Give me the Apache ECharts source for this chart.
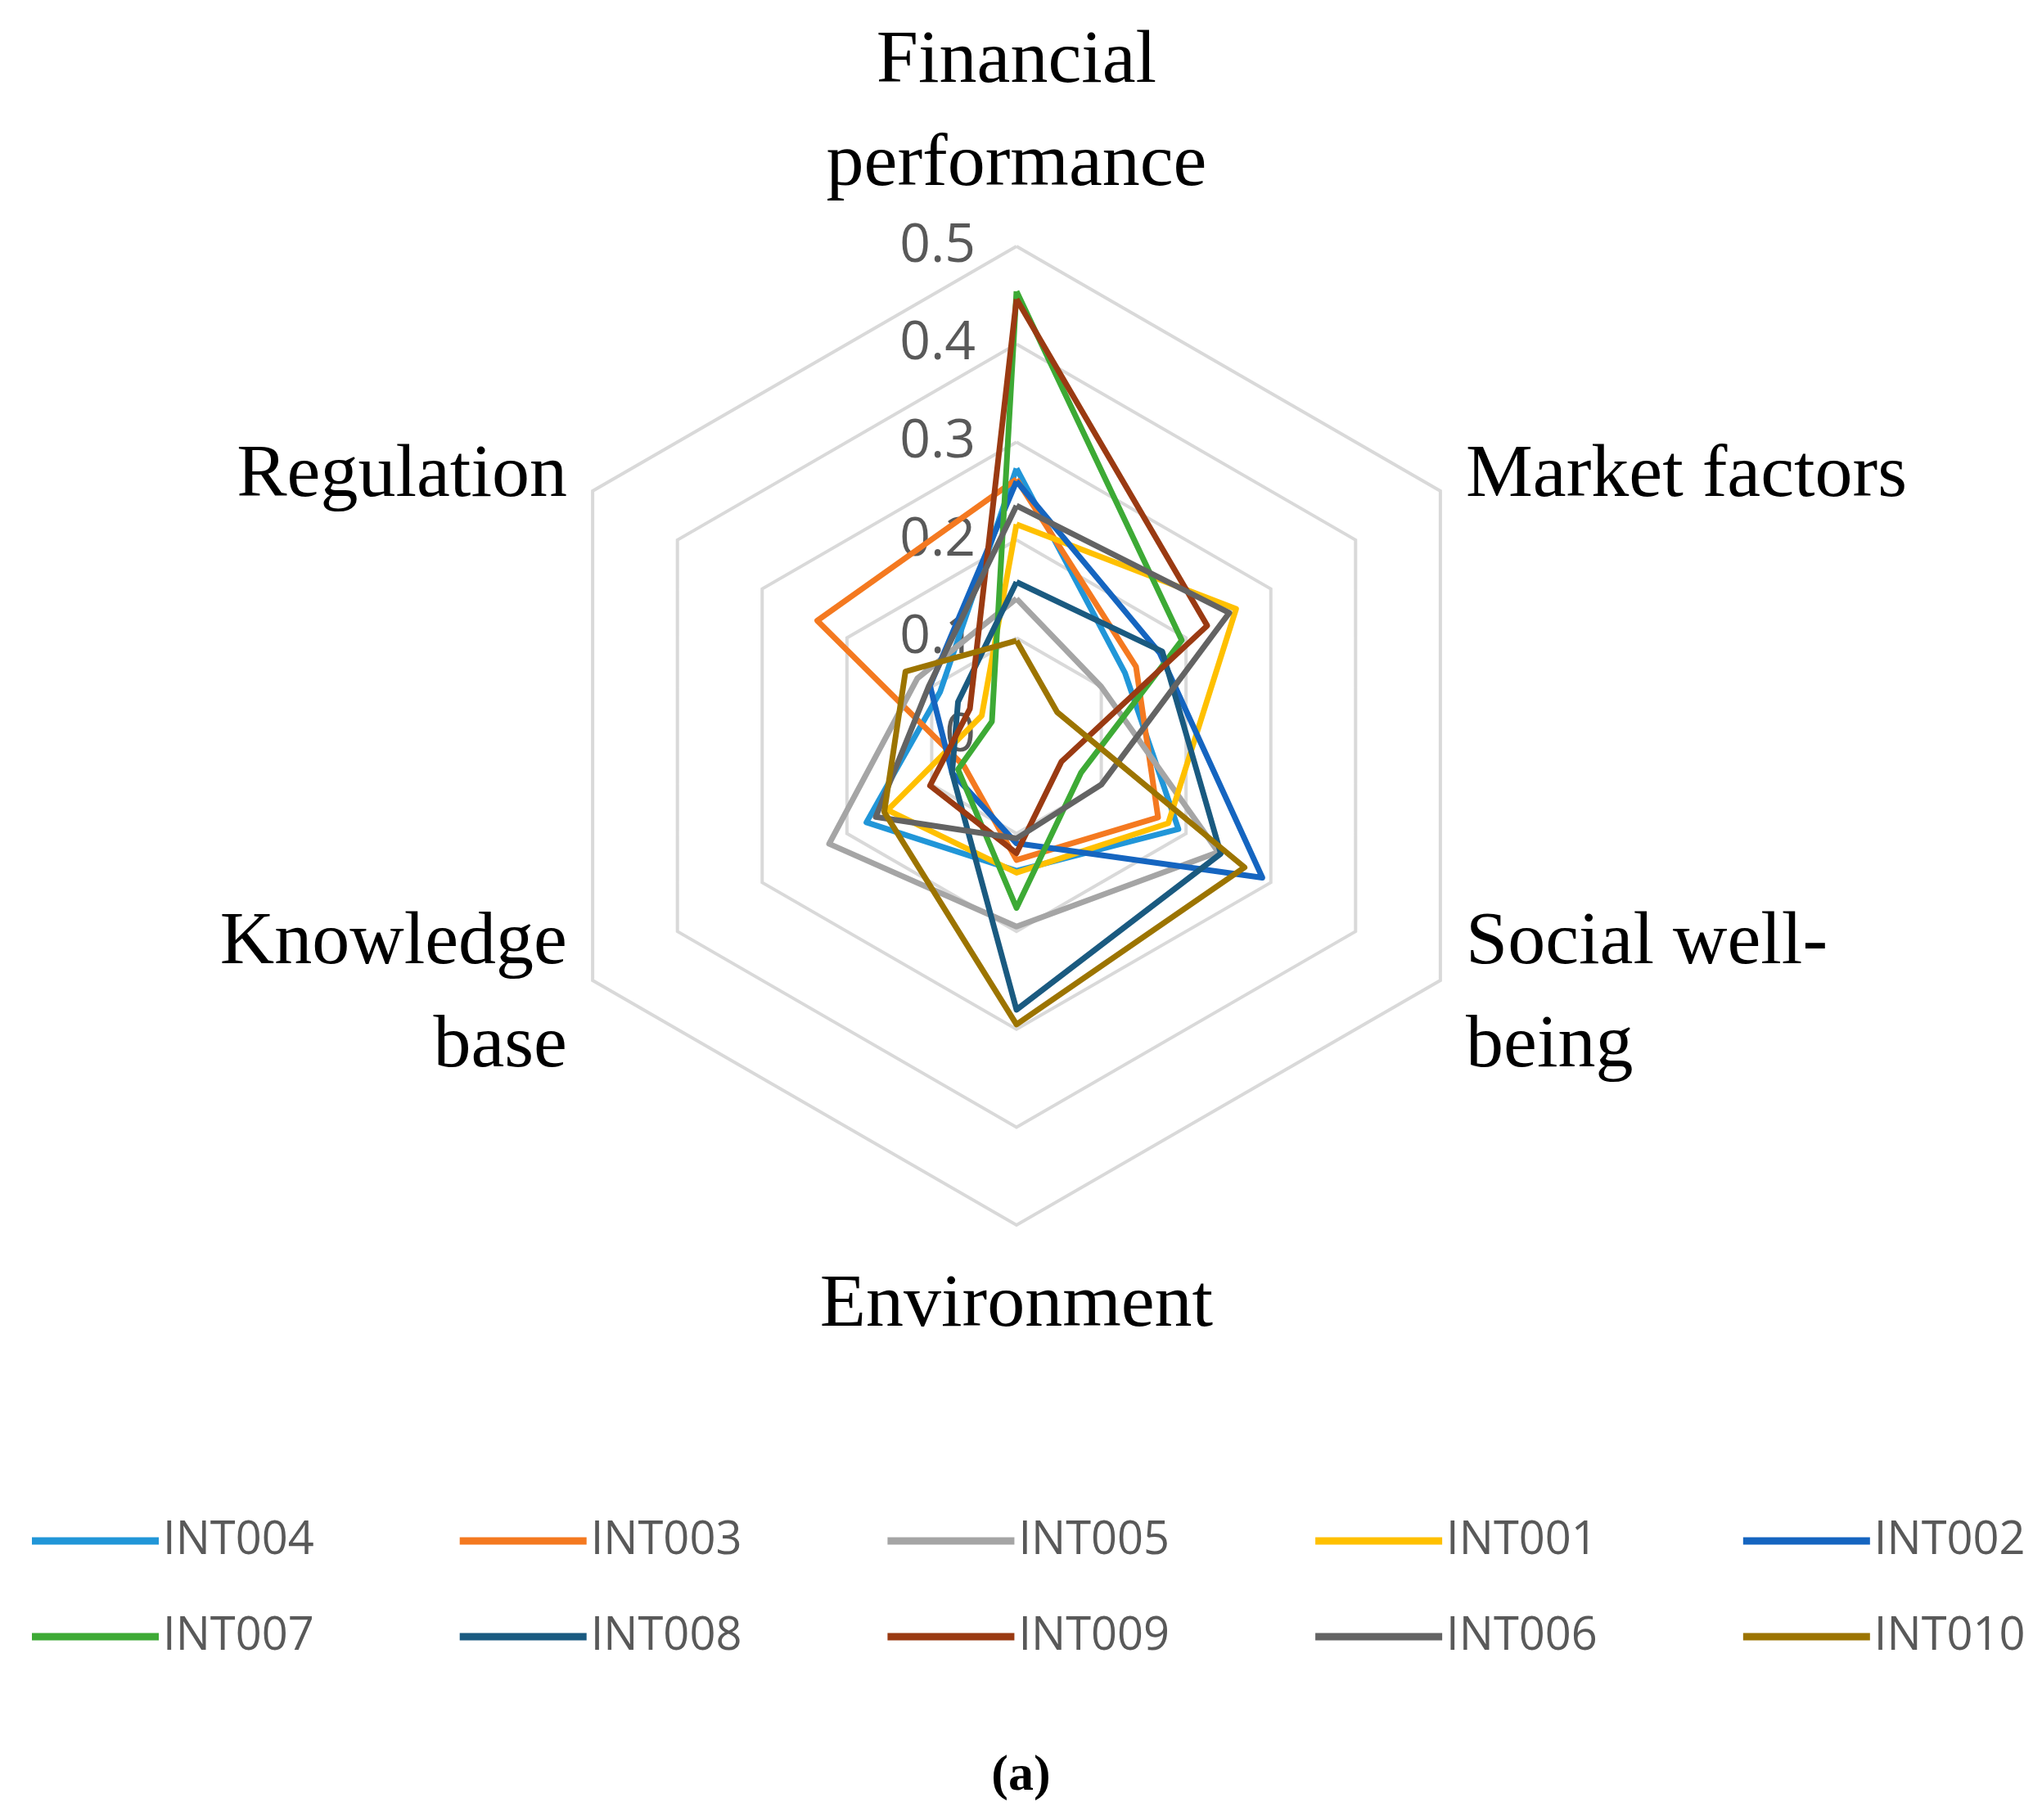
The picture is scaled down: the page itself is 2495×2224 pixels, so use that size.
<!DOCTYPE html>
<html><head><meta charset="utf-8">
<script src="https://cdn.jsdelivr.net/npm/echarts@6/dist/echarts.min.js"></script>
<style>html,body{margin:0;background:#fff}#c{width:2495px;height:2224px}</style>
</head><body><div id="c"></div>
<script>
// order: Financial, Market, Social, Environment, Knowledge, Regulation
const categories = ["Financial\nperformance","Market factors","Social well-\nbeing","Environment","Knowledge\nbase","Regulation"];
const seriesNames = ["INT004","INT003","INT005","INT001","INT002","INT007","INT008","INT009","INT006","INT010"];
const colors = ["#2196D8","#F47920","#A5A5A5","#FFC000","#1565C0","#3DAA35","#1A5A80","#9A3A12","#636363","#9C7400"];
const INT004 = [0.273,0.128,0.191,0.138,0.177,0.09];
const INT003 = [0.262,0.141,0.167,0.127,0.062,0.235];
const INT005 = [0.14,0.10,0.238,0.195,0.221,0.117];
const INT001 = [0.216,0.259,0.179,0.14,0.152,0.041];
const INT002 = [0.26,0.169,0.29,0.11,0.076,0.102];
const INT007 = [0.454,0.195,0.076,0.176,0.069,0.029];
const INT008 = [0.157,0.172,0.241,0.28,0.076,0.069];
const INT009 = [0.446,0.225,0.053,0.12,0.102,0.055];
const INT006 = [0.235,0.251,0.10,0.105,0.166,0.103];
const INT010 = [0.097,0.048,0.269,0.295,0.156,0.131];
const allData = [INT004,INT003,INT005,INT001,INT002,INT007,INT008,INT009,INT006,INT010];
const tickLabels = ["0","0.1","0.2","0.3","0.4","0.5"];

// ECharts radar goes counter-clockwise; reorder so axes go clockwise
const order = [0,5,4,3,2,1];
const chart = echarts.init(document.getElementById('c'));
const legendItem = (names, top) => ({
  data: names, top: top, left: 34, itemWidth: 155, itemHeight: 9, itemGap: 178,
  icon: 'rect', textStyle: {fontFamily:'Open Sans', fontSize: 56, color:'#595959'}
});
chart.setOption({
  animation:false,
  color: colors,
  radar: {
    center:[1242,899], radius:598, startAngle:90, splitNumber:5, shape:'polygon',
    indicator: order.map(i => ({name: categories[i], min:0, max:0.5})),
    axisName: {color:'#000', fontFamily:'Liberation Serif', fontSize:92, lineHeight:126},
    nameGap: 36,
    splitLine:{lineStyle:{color:'#D9D9D9', width:4}},
    splitArea:{show:false},
    axisLine:{show:false}, axisTick:{show:false}
  },
  polar:{center:[1242,899], radius:598},
  angleAxis:{startAngle:90, show:false, min:0, max:360},
  radiusAxis:{min:0, max:0.5, interval:0.1, axisLine:{show:false}, axisTick:{show:false}, splitLine:{show:false},
    axisLabel:{color:'#595959', fontFamily:'Open Sans', fontSize:66, margin:50,
      formatter: v => tickLabels[Math.round(v*10)]}},
  legend: [legendItem(seriesNames.slice(0,5), 1850), legendItem(seriesNames.slice(5), 1967)],
  graphic:[{type:'text', left:'center', top:2140, style:{text:'(a)', font:'bold 62px "Liberation Serif"', fill:'#000'}}],
  series: seriesNames.map((n,k)=>({
    type:'radar', name:n, symbol:'none',
    lineStyle:{width:7, color:colors[k]}, itemStyle:{color:colors[k]},
    data:[{name:n, value: order.map(i=>allData[k][i])}]
  }))
});
</script></body></html>
